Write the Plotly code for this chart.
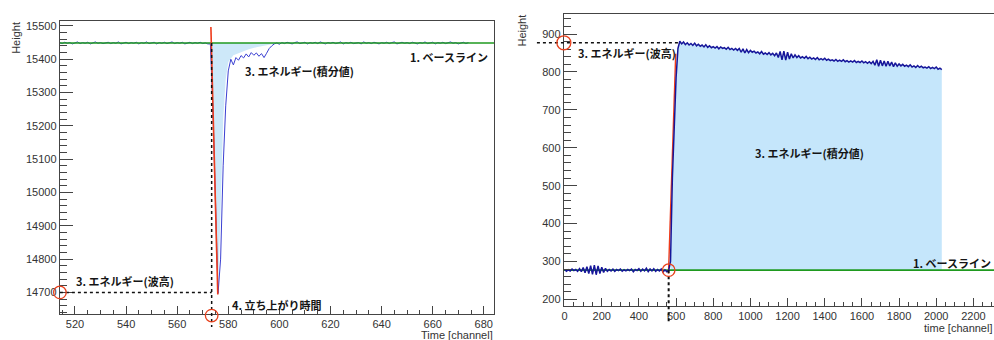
import plotly.graph_objects as go

W, H = 994, 340

# ---------------- data: left panel (negative pulse, zoomed) ----------------
left_start_channel = 514
left_height = [
    15450, 15447, 15451, 15448, 15450, 15446, 15449, 15452, 15447, 15450,
    15448, 15451, 15446, 15449, 15452, 15448, 15450, 15447, 15449, 15451,
    15447, 15450, 15448, 15452, 15446, 15449, 15451, 15447, 15450, 15448,
    15451, 15446, 15450, 15448, 15452, 15447, 15449, 15451, 15446, 15450,
    15448, 15451, 15447, 15449, 15452, 15447, 15450, 15448, 15451, 15446,
    15449, 15451, 15447, 15450, 15448, 15451, 15447, 15449, 15446,
    15446, 15250, 14950, 14697, 14800, 15080, 15260, 15365, 15400, 15383,
    15405, 15397, 15411, 15404, 15416, 15407, 15420, 15412, 15419, 15409,
    15417, 15405, 15418, 15432, 15440, 15446, 15449, 15445,
    15450, 15447, 15451, 15448, 15446, 15450, 15452, 15447, 15449, 15451,
    15446, 15450, 15448, 15451, 15447, 15452, 15449, 15446, 15450, 15448,
    15451, 15447, 15449, 15452, 15446, 15450, 15448, 15451, 15447, 15449,
    15450, 15446, 15452, 15448, 15450, 15447, 15451, 15449, 15446, 15450,
    15448, 15451, 15447, 15450, 15452, 15446, 15449, 15451, 15448, 15450,
    15447, 15451, 15449, 15446, 15450, 15448, 15452, 15447, 15449, 15451,
    15446, 15450, 15448, 15451, 15447, 15449, 15452, 15448, 15450, 15446,
    15449, 15451, 15447, 15450,
]
left_channel = list(range(left_start_channel, left_start_channel + len(left_height)))
left_baseline = 15449
left_fill_channel = [573, 574, 575, 576, 577, 578, 579, 580, 582, 585, 588, 591, 594, 597, 600, 603]
left_fill_height = [15449, 15200, 14850, 14700, 14950, 15220, 15340, 15392, 15412, 15422,
                    15430, 15436, 15441, 15445, 15448, 15449]
left_fit_channel = [573.2, 575.9]
left_fit_height = [15497, 14694]
left_peak = 14700
left_rise_channel = 573.5

# ---------------- data: right panel (positive pulse, full trace) ----------------
right_step = 10
right_height = [
    # 0 - 560
    279, 274, 278, 275, 280, 276, 279, 274, 281, 273,
    284, 270, 286, 268, 289, 266, 290, 265, 288, 268,
    285, 271, 282, 274, 279, 275, 280, 274, 279, 276,
    280, 274, 278, 275, 279, 276, 280, 273, 279, 276,
    281, 274, 280, 275, 282, 273, 280, 275, 281, 274,
    279, 275, 280, 272, 278, 273, 276,
    # 570 - 610 (rise)
    300, 520, 665, 785, 862,
    # 620 - 2030 (decay)
    881, 874, 879, 872, 877, 871, 875, 870, 876, 869,
    873, 868, 871, 866, 872, 865, 869, 864, 867, 863,
    867, 861, 866, 862, 864, 860, 865, 859, 862, 858,
    862, 857, 862, 852, 861, 850, 859, 851, 857, 852,
    855, 850, 853, 848, 854, 847, 850, 846, 851, 845,
    849, 843, 850, 838, 854, 832, 855, 831, 852, 834,
    848, 837, 845, 838, 843, 837, 840, 836, 841, 835,
    839, 834, 837, 833, 838, 832, 835, 832, 836, 831,
    834, 830, 832, 829, 833, 828, 831, 828, 832, 827,
    830, 826, 829, 826, 830, 825, 828, 825, 829, 824,
    827, 823, 827, 822, 828, 818, 832, 815, 831, 816,
    829, 815, 828, 816, 826, 814, 824, 815, 821, 816,
    820, 815, 818, 814, 819, 813, 816, 812, 817, 812,
    815, 811, 813, 810, 814, 809, 812, 809, 813, 807,
    810, 806,
]
right_channel = list(range(0, right_step * len(right_height), right_step))
right_baseline = 277
right_fill_from_channel = 570
right_fit_channel = [559, 598]
right_fit_height = [268, 848]
right_peak = 877
right_rise_channel = 560

# ---------------- geometry ----------------
L_XDOM = [58 / W, 493 / W]
L_YDOM = [1 - 314 / H, 1 - 20 / H]
R_XDOM = [563 / W, 1.0]
R_YDOM = [1 - 305.7 / H, 1 - 13 / H]
L_XR = [514.1, 684.0]
L_YR = [14635, 15515]
R_XR = [-4, 2311]
R_YR = [183, 953]


def lin(v, rng, dom):
    return dom[0] + (v - rng[0]) / (rng[1] - rng[0]) * (dom[1] - dom[0])


def lx(c): return lin(c, L_XR, L_XDOM)
def ly(v): return lin(v, L_YR, L_YDOM)
def rx(c): return lin(c, R_XR, R_XDOM)
def ry(v): return lin(v, R_YR, R_YDOM)
def px(p): return p / W
def py(p): return 1 - p / H


BLUE_L = "#3b40d2"
BLUE_R = "#16169a"
GREEN = "#1f9a1f"
RED = "#ee3b1b"
FILL_L = "rgba(205,232,249,1)"
FILL_R = "rgba(197,230,251,1)"

fig = go.Figure()

# ---- left traces ----
fill_x = left_fill_channel + left_fill_channel[::-1]
fill_y = left_fill_height + [left_baseline] * len(left_fill_channel)
fig.add_trace(go.Scatter(x=fill_x, y=fill_y, fill="toself", fillcolor=FILL_L,
                         line=dict(width=0), mode="lines", xaxis="x", yaxis="y",
                         hoverinfo="skip", showlegend=False))
fig.add_trace(go.Scatter(x=left_channel, y=left_height, mode="lines",
                         line=dict(color=BLUE_L, width=1), xaxis="x", yaxis="y", showlegend=False))
fig.add_trace(go.Scatter(x=[L_XR[0], L_XR[1]], y=[left_baseline, left_baseline], mode="lines",
                         line=dict(color=GREEN, width=1.6), xaxis="x", yaxis="y", showlegend=False))
fig.add_trace(go.Scatter(x=left_fit_channel, y=left_fit_height, mode="lines",
                         line=dict(color=RED, width=1.6), xaxis="x", yaxis="y", showlegend=False))

# ---- right traces ----
idx0 = right_channel.index(right_fill_from_channel)
rfx = right_channel[idx0:]
rfy = right_height[idx0:]
fig.add_trace(go.Scatter(x=rfx + rfx[::-1], y=rfy + [right_baseline] * len(rfx), fill="toself",
                         fillcolor=FILL_R, line=dict(width=0), mode="lines",
                         xaxis="x2", yaxis="y2", hoverinfo="skip", showlegend=False))
fig.add_trace(go.Scatter(x=[R_XR[0], R_XR[1]], y=[right_baseline, right_baseline], mode="lines",
                         line=dict(color=GREEN, width=1.6), xaxis="x2", yaxis="y2", showlegend=False))
fig.add_trace(go.Scatter(x=right_fit_channel, y=right_fit_height, mode="lines",
                         line=dict(color=RED, width=1.4), xaxis="x2", yaxis="y2", showlegend=False))
fig.add_trace(go.Scatter(x=right_channel, y=right_height, mode="lines",
                         line=dict(color=BLUE_R, width=1.5), xaxis="x2", yaxis="y2", showlegend=False))

# ---- guide shapes (paper coords so they may cross the axes) ----
shapes = []
dot = dict(color="#111", width=1.5, dash="dot")
shapes.append(dict(type="line", xref="paper", yref="paper",
                   x0=lx(left_rise_channel), x1=lx(left_rise_channel),
                   y0=ly(left_baseline), y1=py(327), line=dot))
shapes.append(dict(type="line", xref="paper", yref="paper",
                   x0=lx(L_XR[0]), x1=lx(left_rise_channel),
                   y0=ly(left_peak), y1=ly(left_peak), line=dot))
shapes.append(dict(type="line", xref="paper", yref="paper",
                   x0=px(536), x1=rx(619),
                   y0=ry(right_peak), y1=ry(right_peak),
                   line=dict(color="#111", width=1.4, dash="3px,3px")))
shapes.append(dict(type="line", xref="paper", yref="paper",
                   x0=rx(right_rise_channel), x1=rx(right_rise_channel),
                   y0=ry(right_baseline), y1=py(323),
                   line=dict(color="#111", width=2, dash="3px,3px")))


def circle(cxp, cyp, r):
    return dict(type="circle", xref="paper", yref="paper",
                x0=cxp - r / W, x1=cxp + r / W, y0=cyp - r / H, y1=cyp + r / H,
                line=dict(color="#e8401c", width=1.3))


shapes.append(circle(lx(L_XR[0]), ly(left_peak), 6.3))
shapes.append(circle(lx(left_rise_channel), py(315.5), 6.3))
shapes.append(circle(rx(R_XR[0]), ry(right_peak), 7))
shapes.append(circle(rx(right_rise_channel), ry(right_baseline), 6.3))

# ---- annotations ----
JP = dict(family="Noto Sans CJK JP", size=11, color="#151515", weight=600)
AX = dict(family="Liberation Sans, Arial", size=11, color="#333")
ann = []


def txt(text, x, y, xref, yref, font=JP, xanchor="left", angle=0):
    ann.append(dict(text=text, x=x, y=y, xref=xref, yref=yref, showarrow=False,
                    xanchor=xanchor, yanchor="middle", font=font, textangle=angle,
                    borderpad=0))


txt("3. エネルギー(積分値)", 586, 15365, "x", "y")
txt("1. ベースライン", px(488), ly(15407), "paper", "paper", xanchor="right")
txt("3. エネルギー(波高)", 520, 14733, "x", "y")
txt("4. 立ち上がり時間", 581, 14662, "x", "y")
txt("3. エネルギー(波高)", px(576), ry(851), "paper", "paper")
txt("3. エネルギー(積分値)", 1017, 585, "x2", "y2")
txt("1. ベースライン", px(992), ry(295.5), "paper", "paper", xanchor="right")
txt("4. 立ち上がり時間", 594, 124, "x2", "y2")
txt("Height", px(14), py(37), "paper", "paper", font=AX, xanchor="center", angle=-90)
txt("Height", px(520.7), py(30), "paper", "paper", font=AX, xanchor="center", angle=-90)
txt("Time [channel]", px(493), py(335), "paper", "paper", font=AX, xanchor="right")
txt("time [channel]", px(993), py(328), "paper", "paper", font=AX, xanchor="right")

common = dict(showgrid=False, zeroline=False, showline=True, linecolor="#444", linewidth=1.2,
              ticks="inside", tickcolor="#444", tickwidth=1, tickfont=AX, tickformat="d")

fig.update_layout(
    width=W, height=H, margin=dict(l=0, r=0, t=0, b=0),
    paper_bgcolor="white", plot_bgcolor="white", showlegend=False,
    xaxis=dict(domain=L_XDOM, range=L_XR, anchor="y", dtick=20, tick0=0, ticklen=8, mirror=True,
               minor=dict(dtick=5, tick0=0, ticklen=4, ticks="inside", tickcolor="#444"), **common),
    yaxis=dict(domain=L_YDOM, range=L_YR, anchor="x", dtick=100, tick0=0, ticklen=13, mirror=True,
               minor=dict(dtick=20, tick0=0, ticklen=7, ticks="inside", tickcolor="#444"), **common),
    xaxis2=dict(domain=R_XDOM, range=R_XR, anchor="y2", dtick=200, tick0=0, ticklen=8, mirror=True,
                minor=dict(dtick=50, tick0=0, ticklen=4, ticks="inside", tickcolor="#444"), **common),
    yaxis2=dict(domain=R_YDOM, range=R_YR, anchor="x2", dtick=100, tick0=0, ticklen=13,
                minor=dict(dtick=20, tick0=0, ticklen=7, ticks="inside", tickcolor="#444"), **common),
    shapes=shapes, annotations=ann,
)

fig.write_html("out.html")
